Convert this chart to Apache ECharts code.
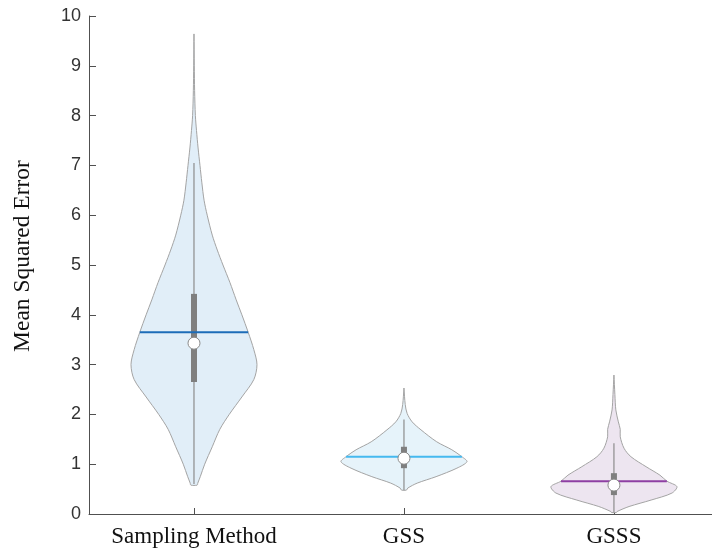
<!DOCTYPE html>
<html>
<head>
<meta charset="utf-8">
<script src="https://cdn.jsdelivr.net/npm/echarts@6/dist/echarts.min.js"></script>
<style>
  html, body { margin: 0; padding: 0; background: #ffffff; }
  #chart { width: 712px; height: 550px; }
</style>
</head>
<body>
<div id="chart"></div>
<script>
// Groups on the horizontal axis
const categories = ['Sampling Method', 'GSS', 'GSSS'];

// Kernel density profiles (value level -> relative density, peak = 1)
const samplingLevels  = [0.58, 0.62, 0.75, 1.0, 1.35, 1.7, 2.0, 2.35, 2.7, 3.0, 3.3, 3.65, 4.0, 4.3, 4.65, 5.0, 5.3, 5.6, 6.0, 6.3, 6.65, 7.0, 7.35, 7.7, 8.0, 8.5, 9.0, 9.64];
const samplingDensity = [0.05, 0.06, 0.1, 0.17, 0.29, 0.41, 0.56, 0.76, 0.95, 1.0, 0.95, 0.86, 0.76, 0.67, 0.57, 0.46, 0.37, 0.29, 0.21, 0.16, 0.125, 0.095, 0.065, 0.04, 0.022, 0.01, 0.005, 0];

const gssLevels  = [0.48, 0.52, 0.62, 0.75, 0.92, 1.05, 1.15, 1.29, 1.45, 1.69, 1.85, 2.02, 2.2, 2.53];
const gssDensity = [0.04, 0.06, 0.21, 0.51, 0.84, 1.0, 0.92, 0.76, 0.52, 0.27, 0.13, 0.05, 0.02, 0];

const gsssLevels  = [0.03, 0.05, 0.15, 0.28, 0.42, 0.55, 0.66, 0.78, 0.95, 1.15, 1.32, 1.55, 1.7, 1.85, 2.09, 2.4, 2.79];
const gsssDensity = [0.04, 0.05, 0.24, 0.59, 0.92, 1.0, 0.84, 0.73, 0.51, 0.27, 0.16, 0.1, 0.1, 0.07, 0.03, 0.015, 0];

// Box-plot summaries per group
const whiskerLow  = [0.6, 0.48, 0.03];
const whiskerHigh = [7.05, 1.9, 1.42];
const q1      = [2.65, 0.92, 0.38];
const q3      = [4.42, 1.35, 0.82];
const medians = [3.43, 1.12, 0.58];
const means   = [3.65, 1.15, 0.66];

// Value-axis ticks
const yTicks = [0, 1, 2, 3, 4, 5, 6, 7, 8, 9, 10];

const profiles = [
  { levels: samplingLevels, density: samplingDensity },
  { levels: gssLevels, density: gssDensity },
  { levels: gsssLevels, density: gsssDensity }
];
const fills = ['#e1eef8', '#e6f3fa', '#ede5f0'];
const meanColors = ['#1c6cb8', '#45b9ef', '#8e3fa3'];
const HALF_WIDTH = 0.3; // half width of a violin at peak density, in axis units

function densityAt(p, v) {
  const L = p.levels, D = p.density;
  for (let i = 0; i < L.length - 1; i++) {
    if (v >= L[i] && v <= L[i + 1]) {
      const t = (v - L[i]) / (L[i + 1] - L[i]);
      return D[i] + t * (D[i + 1] - D[i]);
    }
  }
  return 0;
}

function renderViolin(params, api) {
  const i = params.dataIndex;
  const cx = api.value(0);
  const p = profiles[i];
  const right = p.levels.map((lv, k) => api.coord([cx + p.density[k] * HALF_WIDTH, lv]));
  const left = p.levels.map((lv, k) => api.coord([cx - p.density[k] * HALF_WIDTH, lv])).reverse();
  const pts = right.concat(left);

  const wLo = api.coord([cx, whiskerLow[i]]);
  const wHi = api.coord([cx, whiskerHigh[i]]);
  const bLo = api.coord([cx, q1[i]]);
  const bHi = api.coord([cx, q3[i]]);
  const md = api.coord([cx, medians[i]]);
  const mw = densityAt(p, means[i]) * HALF_WIDTH;
  const mL = api.coord([cx - mw, means[i]]);
  const mR = api.coord([cx + mw, means[i]]);

  return {
    type: 'group',
    children: [
      {
        type: 'polygon',
        shape: { points: pts, smooth: 0.3 },
        style: { fill: fills[i], stroke: '#a4a4a4', lineWidth: 1 }
      },
      {
        type: 'line',
        shape: { x1: wLo[0], y1: wLo[1], x2: wHi[0], y2: wHi[1] },
        style: { stroke: '#8c8c8c', lineWidth: 1.2 }
      },
      {
        type: 'line',
        shape: { x1: bLo[0], y1: bLo[1], x2: bHi[0], y2: bHi[1] },
        style: { stroke: '#7f7f7f', lineWidth: 6 }
      },
      {
        type: 'line',
        shape: { x1: mL[0], y1: mL[1], x2: mR[0], y2: mR[1] },
        style: { stroke: meanColors[i], lineWidth: 2 }
      },
      {
        type: 'circle',
        shape: { cx: md[0], cy: md[1], r: 6 },
        style: { fill: '#ffffff', stroke: '#8a8a8a', lineWidth: 1 }
      }
    ]
  };
}

const chart = echarts.init(document.getElementById('chart'));
chart.setOption({
  animation: false,
  backgroundColor: '#ffffff',
  grid: { left: 89, right: 0, top: 16, bottom: 36, containLabel: false },
  xAxis: {
    type: 'value',
    min: 0.5,
    max: 3.467,
    splitLine: { show: false },
    axisLine: { show: true, lineStyle: { color: '#505050', width: 1 } },
    axisTick: { show: true, inside: true, length: 6, customValues: [1, 2, 3], lineStyle: { color: '#505050' } },
    axisLabel: {
      customValues: [1, 2, 3],
      formatter: v => categories[Math.round(v) - 1] || '',
      fontFamily: 'Liberation Serif',
      fontSize: 23,
      color: '#111111',
      margin: 11
    }
  },
  yAxis: {
    type: 'value',
    min: yTicks[0],
    max: yTicks[yTicks.length - 1],
    interval: 1,
    name: 'Mean Squared Error',
    nameLocation: 'middle',
    nameGap: 54,
    nameTextStyle: { fontFamily: 'Liberation Serif', fontSize: 23.5, color: '#111111', padding: [0, 0, 0, 18] },
    splitLine: { show: false },
    axisLine: { show: true, lineStyle: { color: '#505050', width: 1 } },
    axisTick: { show: true, inside: true, length: 7, lineStyle: { color: '#505050' } },
    axisLabel: { fontFamily: 'Liberation Sans', fontSize: 18, color: '#333333', margin: 8 }
  },
  series: [
    {
      type: 'custom',
      renderItem: renderViolin,
      clip: false,
      data: categories.map((c, i) => [i + 1, medians[i]])
    }
  ]
});
</script>
</body>
</html>
